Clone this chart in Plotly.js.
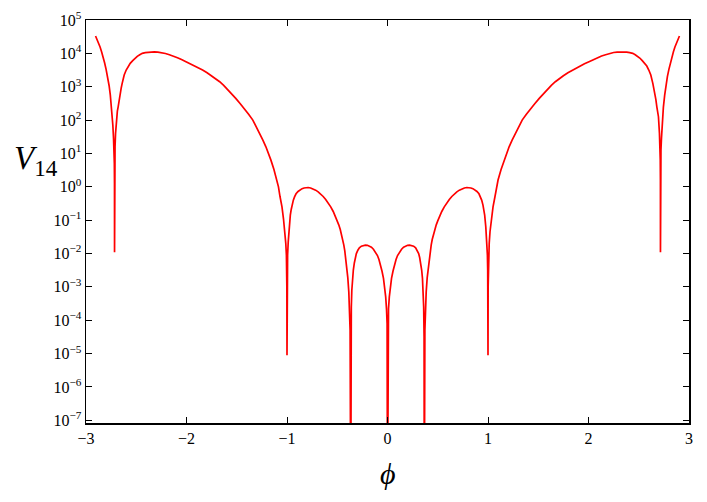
<!DOCTYPE html>
<html>
<head>
<meta charset="utf-8">
<script src="https://cdn.plot.ly/plotly-3.0.1.min.js"></script>
<style>html,body{margin:0;padding:0;background:#fff;}#chart{width:707px;height:502px;}</style>
</head>
<body>
<div id="chart"></div>
<script>
// phi values (x), left half
const phiLeft = [
  -2.905, -2.89, -2.875, -2.86, -2.845, -2.83, -2.815, -2.80, -2.785, -2.77, -2.758, -2.745, -2.733, -2.726, -2.721, -2.718, -2.7165, -2.716,
  -2.7155, -2.714, -2.711, -2.706, -2.696, -2.688, -2.68, -2.67, -2.66, -2.65, -2.64, -2.62, -2.60, -2.58, -2.56, -2.535, -2.51, -2.49, -2.465,
  -2.44, -2.41, -2.38, -2.35, -2.32, -2.285, -2.25, -2.21, -2.17, -2.13, -2.09, -2.05, -2.005, -1.96, -1.92, -1.88, -1.84, -1.795, -1.75, -1.71,
  -1.67, -1.63, -1.59, -1.55, -1.51, -1.465, -1.42, -1.38, -1.34, -1.305, -1.27, -1.24, -1.21, -1.185, -1.16, -1.13, -1.10, -1.085, -1.07, -1.05,
  -1.035, -1.02, -1.012, -1.006, -1.003, -1.0015, -1.0, -0.9985, -0.997, -0.994, -0.988, -0.978, -0.967, -0.958, -0.95, -0.937, -0.925, -0.91,
  -0.89, -0.87, -0.85, -0.83, -0.81, -0.79, -0.765, -0.74, -0.715, -0.69, -0.665, -0.64, -0.615, -0.59, -0.565, -0.54, -0.52, -0.50, -0.485,
  -0.47, -0.458, -0.445, -0.435, -0.425, -0.417, -0.41, -0.403, -0.395, -0.385, -0.378, -0.372, -0.366, -0.364, -0.36, -0.355, -0.348, -0.34,
  -0.33, -0.32, -0.31, -0.295, -0.28, -0.26, -0.24, -0.22, -0.20, -0.18, -0.16, -0.14, -0.12, -0.10, -0.085, -0.07, -0.055, -0.04, -0.028,
  -0.018, -0.01, -0.004, 0
];
// V14 values (y), left half
const V14Left = [
  33100, 26300, 20400, 15500, 11200, 7940, 5250, 3310, 2000, 1070, 562, 240, 71, 28, 13, 5.0, 1.3, 0.011,
  1.6, 6.3, 16, 40, 126, 186, 250, 417, 630, 912, 1260, 2240, 3160, 4170, 5010, 6030, 7240, 8130, 9120,
  10000, 10470, 10840, 11040, 11090, 10910, 10590, 9890, 9120, 8320, 7410, 6530, 5620, 4900, 4270, 3720, 3160, 2630, 2140, 1760,
  1410, 1100, 832, 617, 447, 309, 214, 148, 100, 63, 38, 25, 15.8, 10.2, 6.3, 3.3, 1.6, 1.0, 0.52, 0.25,
  0.11, 0.045, 0.02, 0.0089, 0.0032, 0.001, 8.9e-6, 0.001, 0.0032, 0.0089, 0.022, 0.063, 0.141, 0.209, 0.282, 0.398, 0.50, 0.617,
  0.724, 0.813, 0.88, 0.923, 0.944, 0.951, 0.923, 0.871, 0.794, 0.708, 0.61, 0.513, 0.417, 0.331, 0.251, 0.182, 0.135, 0.0955, 0.0724,
  0.0525, 0.038, 0.0263, 0.0182, 0.012, 0.0079, 0.0052, 0.0033, 0.0019, 7.1e-4, 2.5e-4, 5e-5, 1e-10, 3.2e-5, 2.5e-4, 7.9e-4, 0.0018, 0.0032,
  0.0052, 0.0076, 0.01, 0.0126, 0.0148, 0.0166, 0.0176, 0.0178, 0.0176, 0.0168, 0.0155, 0.0135, 0.0112, 0.0087, 0.0066, 0.0047, 0.003, 0.0018, 0.001,
  5e-4, 2.2e-4, 7.9e-5, 1e-10
];
// phi values (x), right half
const phiRight = [
  0.004, 0.01, 0.018, 0.028, 0.04, 0.055, 0.07, 0.085, 0.10, 0.12, 0.14, 0.16, 0.18, 0.20, 0.22, 0.24, 0.26, 0.28, 0.295, 0.31,
  0.32, 0.33, 0.34, 0.348, 0.355, 0.36, 0.364, 0.366, 0.372, 0.378, 0.385, 0.395, 0.403, 0.41, 0.417, 0.425, 0.435, 0.445, 0.458, 0.47,
  0.485, 0.50, 0.52, 0.54, 0.565, 0.59, 0.615, 0.64, 0.665, 0.69, 0.715, 0.74, 0.765, 0.79, 0.81, 0.83, 0.85, 0.87, 0.89, 0.91,
  0.925, 0.937, 0.95, 0.958, 0.967, 0.978, 0.988, 0.994, 0.997, 0.9985, 1.0, 1.0015, 1.003, 1.006, 1.012, 1.02, 1.035, 1.05, 1.07, 1.085,
  1.10, 1.13, 1.16, 1.185, 1.21, 1.24, 1.27, 1.305, 1.34, 1.38, 1.42, 1.465, 1.51, 1.55, 1.59, 1.63, 1.67, 1.71, 1.75, 1.795,
  1.84, 1.88, 1.92, 1.96, 2.005, 2.05, 2.09, 2.13, 2.17, 2.21, 2.25, 2.285, 2.32, 2.35, 2.38, 2.41, 2.44, 2.465, 2.49, 2.51,
  2.535, 2.56, 2.58, 2.60, 2.62, 2.64, 2.65, 2.66, 2.67, 2.68, 2.688, 2.696, 2.706, 2.711, 2.714, 2.7155, 2.716, 2.7165, 2.718, 2.721,
  2.726, 2.733, 2.745, 2.758, 2.77, 2.785, 2.80, 2.815, 2.83, 2.845, 2.86, 2.875, 2.89, 2.905
];
// V14 values (y), right half
const V14Right = [
  7.9e-5, 2.2e-4, 5e-4, 0.001, 0.0018, 0.003, 0.0047, 0.0066, 0.0087, 0.0112, 0.0135, 0.0155, 0.0168, 0.0176, 0.0178, 0.0176, 0.0166, 0.0148, 0.0126, 0.01,
  0.0076, 0.0052, 0.0032, 0.0018, 7.9e-4, 2.5e-4, 3.2e-5, 1e-10, 5e-5, 2.5e-4, 7.1e-4, 0.0019, 0.0033, 0.0052, 0.0079, 0.012, 0.0182, 0.0263, 0.038, 0.0525,
  0.0724, 0.0955, 0.135, 0.182, 0.251, 0.331, 0.417, 0.513, 0.61, 0.708, 0.794, 0.871, 0.923, 0.951, 0.944, 0.923, 0.88, 0.813, 0.724, 0.617,
  0.50, 0.398, 0.282, 0.209, 0.141, 0.063, 0.022, 0.0089, 0.0032, 0.001, 8.9e-6, 0.001, 0.0032, 0.0089, 0.02, 0.045, 0.11, 0.25, 0.52, 1.0,
  1.6, 3.3, 6.3, 10.2, 15.8, 25, 38, 63, 100, 148, 214, 309, 447, 617, 832, 1100, 1410, 1760, 2140, 2630,
  3160, 3720, 4270, 4900, 5620, 6530, 7410, 8320, 9120, 9890, 10590, 10910, 11090, 11040, 10840, 10470, 10000, 9120, 8130, 7240,
  6030, 5010, 4170, 3160, 2240, 1260, 912, 630, 417, 250, 186, 126, 40, 16, 6.3, 1.6, 0.011, 1.3, 5.0, 13,
  28, 71, 240, 562, 1070, 2000, 3310, 5250, 7940, 11200, 15500, 20400, 26300, 33100
];
const xTickVals = [-3, -2, -1, 0, 1, 2, 3];
const xTickText = ['\u22123', '\u22122', '\u22121', '0', '1', '2', '3'];
const yTickVals = [1e-7, 1e-6, 1e-5, 1e-4, 1e-3, 1e-2, 1e-1, 1e0, 1e1, 1e2, 1e3, 1e4, 1e5];
const yTickText = ['10<sup>\u22127</sup>', '10<sup>\u22126</sup>', '10<sup>\u22125</sup>', '10<sup>\u22124</sup>', '10<sup>\u22123</sup>',
  '10<sup>\u22122</sup>', '10<sup>\u22121</sup>', '10<sup>0</sup>', '10<sup>1</sup>', '10<sup>2</sup>', '10<sup>3</sup>', '10<sup>4</sup>', '10<sup>5</sup>'];

const serif = 'Liberation Serif, DejaVu Serif, serif';
const axisCommon = {
  showline: true, linecolor: '#000', linewidth: 1.5, mirror: 'ticks',
  ticks: 'inside', ticklen: 6, tickwidth: 1, tickcolor: '#000',
  showgrid: false, zeroline: false,
  tickfont: {family: serif, size: 16, color: '#000'}
};

const trace = {
  x: phiLeft.concat(phiRight), y: V14Left.concat(V14Right), type: 'scatter', mode: 'lines',
  line: {color: '#ff0000', width: 1.7}, hoverinfo: 'skip'
};

const layout = {
  width: 707, height: 502,
  margin: {l: 86, r: 18, t: 20, b: 79, pad: 0},
  paper_bgcolor: '#fff', plot_bgcolor: '#fff',
  showlegend: false,
  xaxis: Object.assign({}, axisCommon, {
    range: [-3, 3], tickmode: 'array', tickvals: xTickVals, ticktext: xTickText
  }),
  yaxis: Object.assign({}, axisCommon, {
    type: 'log', range: [-7.08, 5], tickmode: 'array', tickvals: yTickVals, ticktext: yTickText
  }),
  annotations: [
    {xref: 'paper', yref: 'paper', x: -0.123, y: 0.652, xanchor: 'left', yanchor: 'middle', showarrow: false,
     text: '<i>V</i><sub>14</sub>', font: {family: serif, size: 33, color: '#000'}},
    {xref: 'paper', yref: 'paper', x: 0.5, y: -0.125, xanchor: 'center', yanchor: 'middle', showarrow: false,
     text: '<i>\u03D5</i>', font: {family: serif, size: 30, color: '#000'}}
  ]
};

Plotly.newPlot('chart', [trace], layout, {staticPlot: true, displayModeBar: false});
</script>
</body>
</html>
